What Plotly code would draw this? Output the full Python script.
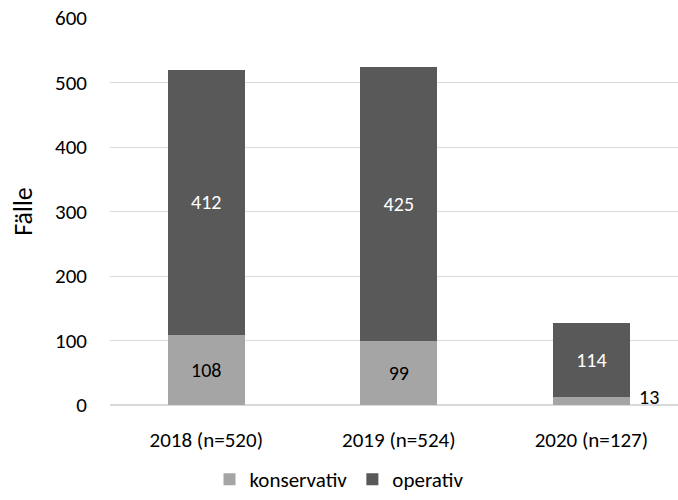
import plotly.graph_objects as go

categories = ["2018 (n=520)", "2019 (n=524)", "2020 (n=127)"]
konservativ = [108, 99, 13]
operativ = [412, 425, 114]

FONT = "Carlito, Calibri, Lato, sans-serif"

fig = go.Figure()

# lower segment: conservative treatment
fig.add_trace(go.Bar(
    x=categories, y=konservativ, name="konservativ",
    marker=dict(color="#a5a5a5", line=dict(width=0)),
    text=[str(v) if v >= 50 else "" for v in konservativ],
    textposition="inside", insidetextanchor="middle",
    textfont=dict(color="#000000", size=20, family=FONT),
))
# upper segment: surgical treatment
fig.add_trace(go.Bar(
    x=categories, y=operativ, name="operativ",
    marker=dict(color="#595959", line=dict(width=0)),
    text=[str(v) for v in operativ],
    textposition="inside", insidetextanchor="middle",
    textfont=dict(color="#ffffff", size=20, family=FONT),
))

# small segment labelled beside the bar
for cat, v in zip(categories, konservativ):
    if v < 50:
        fig.add_annotation(
            x=cat, y=v, text=str(v), showarrow=False,
            xanchor="left", yanchor="middle", xshift=46,
            font=dict(size=20, color="#000000", family=FONT),
        )

fig.update_layout(
    barmode="stack",
    bargap=0.6,
    width=678, height=500,
    margin=dict(l=110, r=0, t=18, b=95, autoexpand=False),
    plot_bgcolor="white", paper_bgcolor="white",
    font=dict(family=FONT, color="#000000", size=21),
    legend=dict(
        orientation="h", x=0.5, xanchor="center", xref="container",
        y=0.0, yanchor="bottom", yref="container",
        font=dict(size=21, family=FONT), traceorder="normal",
        itemwidth=30, tracegroupgap=0,
    ),
    yaxis=dict(
        range=[0, 600], dtick=100, showgrid=True, gridcolor="#d9d9d9",
        gridwidth=1, zeroline=True, zerolinecolor="#d9d9d9",
        title=dict(text="Fälle", font=dict(size=26, family=FONT), standoff=14),
        ticklabelstandoff=22, tickfont=dict(size=21),
        automargin=False,
    ),
    xaxis=dict(
        range=[-0.5, 2.45], showline=False, ticks="",
        tickfont=dict(size=21), ticklabelstandoff=20,
        automargin=False,
    ),
    showlegend=True,
    uniformtext=dict(minsize=8, mode="show"),
)

fig.write_html("out.html")
